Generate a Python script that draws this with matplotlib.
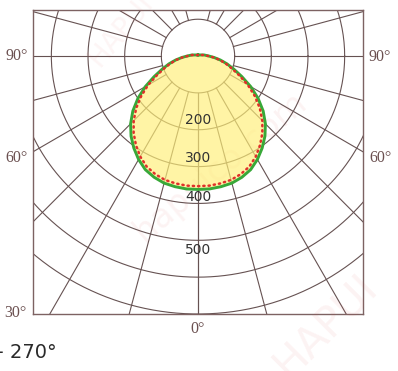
import numpy as np
import matplotlib
matplotlib.use('Agg')
import matplotlib.pyplot as plt

# intensity curves (cd), angle measured from nadir, symmetric on both sides
angles = [0, 5, 10, 15, 20, 25, 30, 35, 40, 45, 50, 55, 60, 65, 70, 75, 80, 85, 90, 100, 120, 150, 180]
c90_270 = [362, 362, 360, 357, 350, 340, 324, 305, 284, 260, 232, 200, 166, 132, 104, 82, 62, 44, 30, 17, 6, 3, 3]
c0_180 = [353, 353, 351, 348, 341, 331, 315, 295, 273, 248, 220, 189, 157, 124, 98, 78, 60, 43, 29, 16, 6, 3, 3]

rings = [100, 200, 300, 400, 500, 600, 700]
ring_labels = {200: -174, 300: -277, 400: -383, 500: -526}
spokes = list(range(0, 180, 15))

W, H = 398, 371
fig = plt.figure(figsize=(W / 100, H / 100), dpi=100)
fig.patch.set_facecolor('white')

# box: px 33..363 horizontally, 10..314 vertically
ax = fig.add_axes([33 / W, (H - 314) / H, 330 / W, 304 / H])
ax.set_xlim(-450, 450)
ax.set_ylim(-700, 125)
ax.set_xticks([])
ax.set_yticks([])
for s in ax.spines.values():
    s.set_color('#7d6262')
    s.set_linewidth(1.0)

gc = '#665252'
t = np.linspace(0, 2 * np.pi, 400)
for r in rings:
    ax.plot(r * np.cos(t), r * np.sin(t), color=gc, lw=0.8, zorder=1)

for a in spokes:
    for sgn in (1, -1):
        th = np.radians(a) * sgn
        ax.plot([100 * np.sin(th), 1200 * np.sin(th)],
                [-100 * np.cos(th), -1200 * np.cos(th)], color=gc, lw=0.8, zorder=1)


def to_xy(ang, val):
    ang = np.array(ang, dtype=float)
    val = np.array(val, dtype=float)
    full_a = np.concatenate([-ang[::-1], ang[1:]])
    full_v = np.concatenate([val[::-1], val[1:]])
    th = np.radians(full_a)
    return full_v * np.sin(th), -full_v * np.cos(th)


gx, gy = to_xy(angles, c90_270)
rx, ry = to_xy(angles, c0_180)

ax.fill(gx, gy, color='#fff07a', alpha=0.68, zorder=2, lw=0)
ax.plot(gx, gy, color='#38a838', lw=2.1, zorder=3, solid_joinstyle='round')
ax.plot(rx, ry, color='#e0302a', lw=1.8, linestyle=(0, (0.5, 1.6)),
        dash_capstyle='round', zorder=4)

for v, y in ring_labels.items():
    ax.text(0, y, str(v), ha='center', va='center', fontsize=10,
            color='#333333', zorder=5)

# faint watermark
ax.text(60, -300, 'hapuico.com', rotation=40, fontsize=24, color='#e05050',
        alpha=0.07, ha='center', va='center', zorder=0)
fig.text(325 / W, 1 - 325 / H, 'HAPUI', rotation=45, fontsize=30,
         color='#e05050', alpha=0.07, ha='center', va='center')
fig.text(120 / W, 1 - 30 / H, 'HAPUI', rotation=50, fontsize=20,
         color='#e05050', alpha=0.06, ha='center', va='center')

lab = dict(family='Liberation Serif', fontsize=11.5, color='#6b5050',
           ha='center', va='center')
fig.text(17 / W, 1 - 56 / H, '90°', **lab)
fig.text(380 / W, 1 - 57 / H, '90°', **lab)
fig.text(17 / W, 1 - 158 / H, '60°', **lab)
fig.text(380 / W, 1 - 158 / H, '60°', **lab)
fig.text(15 / W, 1 - 313 / H, '30°', **lab)
fig.text(198 / W, 1 - 329 / H, '0°', **lab)

fig.text(57 / W, 1 - 353 / H, '90° - 270°', fontsize=14, color='#2a2a2a',
         fontweight='medium', ha='right', va='center')

fig.savefig('out.png', dpi=100)
